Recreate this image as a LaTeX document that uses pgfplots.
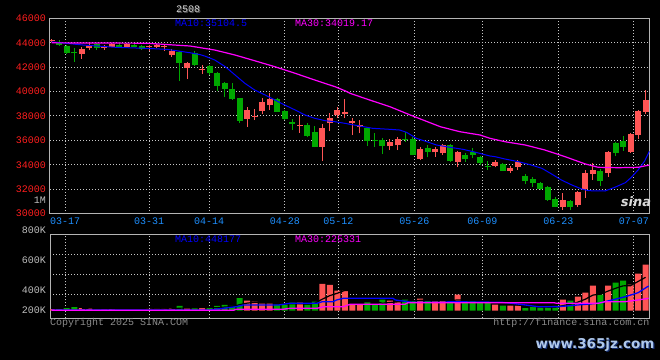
\documentclass[border=0pt]{standalone}
\usepackage{pgfplots}
\pgfplotsset{compat=1.18}
\usepackage{pgfplotstable}
\usepackage{fontspec}
\setmainfont{Liberation Mono}
\newfontfamily\wmfont{DejaVu Sans}
\definecolor{kred}{HTML}{FF5555}
\definecolor{kgreen}{HTML}{00A800}
\definecolor{framec}{HTML}{B4B4B4}
\definecolor{gridc}{HTML}{C8C8C8}
\definecolor{tickred}{HTML}{FF1E1E}
\definecolor{datec}{HTML}{1E90FF}
\definecolor{volgrey}{HTML}{BEBEBE}
\definecolor{copyc}{HTML}{8C8C8C}
\definecolor{maten}{HTML}{0000FF}
\definecolor{mathirty}{HTML}{FF00FF}

% red (rising) candles: index, open, high, low, close, volume (K)
\pgfplotstableread{
i o h l c v
0 44112 44300 44054 44218 25
4 43112 43686 42695 43456 45
5 43604 43997 43399 43727 45
7 43538 43808 43440 43702 17
8 43669 43948 43620 43890 25
10 43669 43948 43620 43890 17
13 43620 43808 43342 43727 29
14 43669 43866 43563 43808 29
15 43620 43808 43342 43751 29
16 42989 43456 42850 43342 45
18 41900 42441 41024 42359 45
20 41761 42170 41433 41884 45
26 37748 38755 37117 38485 168
27 37953 38542 37666 38035 151
28 38400 39443 38157 39140 118
29 38894 39853 38485 39386 118
33 37216 37994 36626 37297 134
36 35479 37338 34333 36986 449
37 37396 38215 36790 37805 432
38 38075 38731 37830 38485 336
39 38157 39386 37805 38346 336
40 37396 37805 36437 37609 101
41 37117 37666 36577 37256 101
45 35537 36085 35209 35889 168
46 35594 36274 35209 36085 146
49 34472 35430 34390 35266 202
51 35021 35479 34660 35266 156
52 34939 35700 34799 35618 168
54 34251 35152 33841 35021 269
59 33899 34390 33792 34251 101
61 33514 33899 33350 33759 84
62 33841 34390 33571 34251 84
68 30516 31663 30295 31114 185
70 30704 31876 30565 31794 235
71 32015 33571 31302 33301 302
72 33243 34120 32752 33571 420
74 33350 35127 33022 35070 420
77 35070 36601 34988 36519 437
78 36437 38485 36085 38428 622
79 38346 40123 38157 39304 773
}\redtab

% green (falling) candles
\pgfplotstableread{
i o h l c v
1 43997 44218 43751 43808 25
2 43727 43808 43071 43129 42
3 43235 43604 42441 43129 59
6 43866 43972 43399 43563 17
9 43833 44054 43620 43669 17
11 43833 43948 43620 43669 22
12 43727 43808 43399 43456 22
17 43260 43342 40860 42359 79
19 43129 43317 42089 42170 45
21 42089 42170 41351 41491 42
22 41491 41573 40066 40475 79
23 40721 40803 39525 40205 96
24 40180 40672 39304 39386 79
25 39443 39468 37445 37609 213
30 39361 39443 38321 38346 101
31 38403 38485 37666 37748 101
32 37478 37748 36847 37314 134
34 37256 37396 36249 36356 101
35 36659 37175 35430 35479 151
42 37035 37093 35537 35971 139
43 36069 36577 35479 35987 101
44 36028 36167 34881 35537 185
47 36110 36708 35889 36028 185
48 36085 36249 34760 34799 168
50 35348 35618 34611 35070 168
53 35618 35700 34251 34333 146
55 34799 34988 34251 34472 156
56 35070 35348 34529 34799 156
57 34611 34718 33980 34120 139
58 33940 34333 33571 33858 129
60 34062 34144 33489 33514 84
63 33080 33243 32424 32670 45
64 32809 32973 32203 32531 62
65 32482 32588 31933 32015 50
66 32154 32261 31050 31114 55
67 31171 31335 30516 30565 79
69 31032 31114 30295 30516 168
73 33514 33628 32261 32670 269
75 35758 35889 34718 34939 470
76 35971 36356 35152 35479 504
}\greentab

\pgfplotsset{
  kline/.style={
    scale only axis, width=599.5bp,
    xmin=-0.226, xmax=79.52,
    scaled ticks=false,
    axis line style={draw=framec, line width=1bp},
    major tick length=0pt,
    xmajorgrids, ymajorgrids,
    major grid style={draw=gridc, line width=1bp, dash pattern=on 1bp off 2bp},
    xtick={1.77,12.97,20.93,31.03,38.12,48.23,57.28,67.39,77.45},
    tick label style={font=\fontsize{10bp}{12bp}\selectfont, inner sep=0pt},
    axis background/.style={fill=black},
  },
  wick/.style={draw=none, mark=none,
    error bars/.cd, y dir=plus, y explicit, error mark=none,
    error bar style={line width=1bp, draw=#1}},
  body/.style={draw=none, mark=none,
    error bars/.cd, y dir=plus, y explicit, error mark=none,
    error bar style={line width=6bp, draw=#1}},
}

\begin{document}
\begin{tikzpicture}[font=\fontsize{10bp}{12bp}\selectfont]
\useasboundingbox (0,0) rectangle (660bp,360bp);
\fill[black] (0,0) rectangle (660bp,360bp);

% ---------- price panel ----------
\begin{axis}[kline, at={(50bp,146.4bp)}, anchor=south west, height=195.3bp,
  ymin=30000, ymax=46000,
  ytick={30000,32000,34000,36000,38000,40000,42000,44000,46000},
  yticklabels={30000,32000,34000,36000,38000,40000,42000,44000,46000},
  yticklabel style={text=tickred, anchor=east, xshift=-4bp},
  xticklabels={03-17,03-31,04-14,04-28,05-12,05-26,06-09,06-23,07-07},
  xticklabel style={text=datec, anchor=center, yshift=-7.4bp},
]
\addplot[wick=kred] table[x=i, y=l, y error plus expr=\thisrow{h}-\thisrow{l}] {\redtab};
\addplot[wick=kgreen] table[x=i, y=l, y error plus expr=\thisrow{h}-\thisrow{l}] {\greentab};
\addplot[body=kred] table[x=i, y=o, y error plus expr=\thisrow{c}-\thisrow{o}] {\redtab};
\addplot[body=kgreen] table[x=i, y=c, y error plus expr=\thisrow{o}-\thisrow{c}] {\greentab};
% MA10
\addplot[maten, line width=1bp] coordinates {
(0,44070) (2,43948) (4.2,43808) (8.6,43620) (12.6,43538) (15.3,43456) (16.6,43342)
(18.4,43178) (19.7,43030) (20.4,42900) (21.7,42580) (23.1,42031) (24.4,41352)
(25.7,40672) (27.0,40123) (28.4,39714) (29.7,39304) (31.0,38895) (32.4,38485)
(33.7,38076) (35.0,37805) (36.4,37609) (37.7,37527) (39.0,37396) (39.7,37314)
(41.0,37175) (42.7,36986) (45.0,36904) (46.3,36847) (47.2,36659) (48.5,36167)
(49.9,35889) (51.2,35618) (53.0,35430) (54.7,35266) (56.1,35070) (58.3,34718)
(59.0,34661) (60.3,34472) (62.1,34251) (63.8,33980) (65.2,33710) (66.5,33243)
(67.8,32752) (69.2,32343) (70.5,32015) (71.4,31876) (73.6,31851) (74.9,32154)
(76.3,32531) (77.1,32973) (78.0,33571) (78.9,34333) (79.5,35100)};
% MA30
\addplot[mathirty, line width=1.2bp] coordinates {
(0,43990) (12.6,43960) (15.3,43850) (18.4,43730) (19.5,43620) (21.7,43399)
(24.4,42989) (27.0,42523) (29.7,42031) (32.4,41491) (35.0,40942) (37.7,40393)
(39.0,40066) (39.7,39853) (42.3,39304) (45.0,38755) (47.7,38076) (49.4,37666)
(51.7,37117) (54.3,36708) (57.0,36437) (58.3,36167) (60.3,35889) (63.0,35618)
(65.6,35209) (68.3,34661) (71.0,34062) (72.7,33792) (75.4,33759) (78.0,33792)
(79.5,33980)};
\end{axis}

% ---------- volume panel ----------
\begin{axis}[kline, at={(50bp,41.7bp)}, anchor=south west, height=83.6bp,
  ymin=-128, ymax=1277,
  ytick={264,600,936}, yticklabels={}, xticklabels={},
]
\addplot[ybar, bar width=6bp, bar shift=0pt, fill=kred, draw=none] table[x=i, y=v] {\redtab};
\addplot[ybar, bar width=6bp, bar shift=0pt, fill=kgreen, draw=none] table[x=i, y=v] {\greentab};
% MA5 (black, visible only over the bars)
\addplot[black, line width=1.2bp] coordinates {
(4,39) (5,43) (6,42) (7,37) (8,30) (9,24) (10,19) (11,20) (12,21) (13,21) (14,24)
(15,26) (16,31) (17,42) (18,45) (19,49) (20,52) (21,51) (22,51) (23,61) (24,68)
(25,102) (26,127) (27,141) (28,146) (29,154) (30,131) (31,118) (32,114) (33,118)
(34,114) (35,124) (36,194) (37,253) (38,294) (39,341) (40,331) (41,261) (42,203)
(43,156) (44,125) (45,139) (46,148) (47,157) (48,170) (49,174) (50,174) (51,176)
(52,172) (53,168) (54,181) (55,179) (56,179) (57,173) (58,170) (59,136) (60,122)
(61,107) (62,96) (63,80) (64,72) (65,65) (66,59) (67,58) (68,86) (69,107) (70,144)
(71,194) (72,262) (73,279) (74,329) (75,376) (76,417) (77,420) (78,491) (79,561)};
% MA10
\addplot[maten, line width=1.3bp] coordinates {
(0,12) (21,12) (22,28) (24.6,67) (25.5,96) (30.2,96) (31.7,124) (35.3,124) (36,151)
(37.4,151) (37.9,180) (38.8,208) (45.4,208) (45.7,180) (47.4,151) (47.9,141)
(52.3,141) (52.8,151) (59.9,141) (61.2,124) (63,96) (64.7,67) (67.4,67) (70,96)
(72.7,124) (74.9,191) (76.3,235) (78,302) (79.4,415)};
% MA30
\addplot[mathirty, line width=1.3bp] coordinates {
(0,7) (24.2,7) (24.5,24) (30.8,24) (31.7,40) (35.3,40) (36.2,67) (38.8,67)
(39.7,108) (47,108) (47.4,134) (66.8,134) (67.2,124) (72.7,124) (73.6,151)
(76.3,151) (78,180) (79.4,208)};
\end{axis}

% ---------- texts ----------
\node[text=black!30!gray, inner sep=0pt] at (189bp,349.3bp) {2508};
\node[text=white!82!black, inner sep=0pt] at (188bp,350.3bp) {2508};
\node[anchor=west, text=maten, inner sep=0pt] at (175bp,336.7bp) {MA10:35104.5};
\node[anchor=west, text=mathirty, inner sep=0pt] at (295bp,336.7bp) {MA30:34019.17};
\node[anchor=east, text=volgrey, inner sep=0pt] at (46bp,160bp) {1M};

\node[anchor=west, text=maten, inner sep=0pt] at (175bp,120.7bp) {MA10:448177};
\node[anchor=west, text=mathirty, inner sep=0pt] at (295bp,120.7bp) {MA30:225331};
\node[anchor=east, text=volgrey, inner sep=0pt] at (46bp,129.3bp) {800K};
\node[anchor=east, text=volgrey, inner sep=0pt] at (46bp,99.3bp) {600K};
\node[anchor=east, text=volgrey, inner sep=0pt] at (46bp,69.3bp) {400K};
\node[anchor=east, text=volgrey, inner sep=0pt] at (46bp,49.7bp) {200K};

\node[anchor=west, text=copyc, inner sep=0pt] at (50bp,37bp) {Copyright 2025 SINA.COM};
\node[anchor=east, text=copyc, inner sep=0pt] at (649.5bp,37bp) {http://finance.sina.com.cn};

\node[text=white!85!black, inner sep=0pt, font=\wmfont\bfseries\itshape\fontsize{13bp}{14bp}\selectfont] at (636bp,158.5bp) {sina};
\node[text={rgb,255:red,20;green,45;blue,110}, inner sep=0pt, font=\wmfont\bfseries\fontsize{13.5bp}{15bp}\selectfont] at (596.2bp,13.8bp) {www.365jz.com};
\node[text={rgb,255:red,175;green,200;blue,235}, inner sep=0pt, font=\wmfont\bfseries\fontsize{13.5bp}{15bp}\selectfont] at (595bp,15bp) {www.365jz.com};
\end{tikzpicture}
\end{document}
